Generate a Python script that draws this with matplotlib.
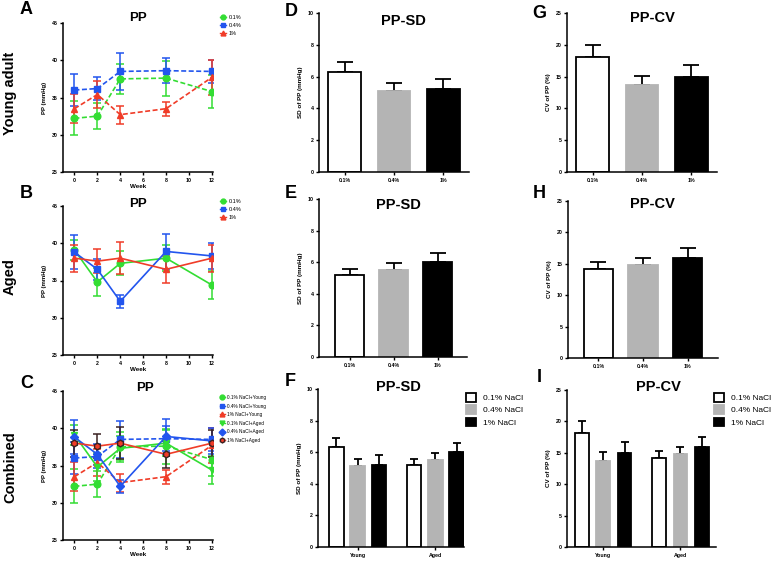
import matplotlib
matplotlib.use('Agg')
import matplotlib.pyplot as plt
from matplotlib.lines import Line2D

plt.rcParams['font.family'] = ['Liberation Sans', 'DejaVu Sans']
plt.rcParams['font.weight'] = 'bold'

W, H = 772, 561

weeks = [0, 2, 4, 8, 12]
doses = ['0.1%', '0.4%', '1%']
groups = ['Young', 'Aged']

# PP (mmHg), mean and error, young adult rats
young_01 = [32.2, 32.5, 37.5, 37.6, 35.8]
young_01_err = [2.3, 1.7, 2.0, 2.35, 2.2]
young_04 = [36.0, 36.2, 38.5, 38.6, 38.5]
young_04_err = [2.2, 1.6, 2.5, 1.7, 1.5]
young_1 = [33.5, 35.4, 32.7, 33.5, 37.7]
young_1_err = [1.95, 1.8, 1.2, 0.95, 2.3]

# aged rats
aged_01 = [39.1, 34.8, 37.3, 38.0, 34.4]
aged_01_err = [1.3, 1.9, 1.6, 1.7, 1.85]
aged_04 = [38.8, 36.5, 32.2, 38.9, 38.3]
aged_04_err = [2.3, 1.4, 0.85, 2.4, 1.8]
aged_1 = [38.0, 37.6, 38.0, 36.5, 38.0]
aged_1_err = [1.8, 1.65, 2.15, 1.85, 1.8]

# SD and CV of PP
sd_young = [6.3, 5.1, 5.2]
sd_young_err = [0.6, 0.48, 0.62]
sd_aged = [5.18, 5.5, 6.0]
sd_aged_err = [0.38, 0.43, 0.56]
cv_young = [18.1, 13.65, 14.95]
cv_young_err = [1.9, 1.4, 1.8]
cv_aged = [14.25, 14.85, 15.9]
cv_aged_err = [1.0, 1.0, 1.55]

green = '#33dd33'
blue = '#2255ee'
red = '#f03c28'
bar_fill = ['white', '#b4b4b4', 'black']
bar_edge = ['black', '#b4b4b4', 'black']

fig = plt.figure(figsize=(W / 100, H / 100), dpi=100)


def ax_at(l, t, r, b):
    ax = fig.add_axes([l / W, 1 - b / H, (r - l) / W, (b - t) / H])
    for s in ['top', 'right']:
        ax.spines[s].set_visible(False)
    for s in ['left', 'bottom']:
        ax.spines[s].set_linewidth(1.1)
    ax.tick_params(direction='out', length=2.5, width=1, labelsize=3.8, pad=1.5)
    return ax


def fig_text(x, y, s, **kw):
    fig.text(x / W, 1 - y / H, s, ha='center', va='center', fontweight='bold', **kw)


def line_panel(ax, series):
    for vals, err, col, mk, ls, ecol, ms in series:
        ax.errorbar(weeks, vals, yerr=err, color=col, ecolor=ecol, marker=mk, ls=ls,
                    lw=1.2, ms=ms, capsize=3.2, elinewidth=1.1, capthick=1.1,
                    mec=ecol, dashes=(3, 1.5) if ls == '--' else (None, None))
    ax.set_xlim(-1, 12.1)
    ax.set_ylim(25, 45)
    ax.set_xticks([0, 2, 4, 6, 8, 10, 12])
    ax.set_yticks([25, 30, 35, 40, 45])
    ax.set_xlabel('Week', fontsize=4.5, fontweight='bold', labelpad=1)
    ax.set_ylabel('PP (mmHg)', fontsize=4.3, fontweight='bold', labelpad=3)


young_series = [
    (young_01, young_01_err, green, 'o', '--', green, 4.8),
    (young_04, young_04_err, blue, 's', '--', blue, 4.8),
    (young_1, young_1_err, red, '^', '--', red, 4.8),
]
aged_series = [
    (aged_01, aged_01_err, green, 'o', '-', green, 4.8),
    (aged_04, aged_04_err, blue, 's', '-', blue, 4.8),
    (aged_1, aged_1_err, red, '^', '-', red, 4.8),
]
combined_series = young_series + [
    (aged_01, aged_01_err, green, 'v', '-', green, 4.8),
    (aged_04, aged_04_err, blue, 'D', '-', blue, 3.8),
    (aged_1, aged_1_err, red, 'h', '-', '#3a2222', 4.8),
]

axA = ax_at(63, 23, 213, 172)
line_panel(axA, young_series)
axB = ax_at(63, 206, 213, 355)
line_panel(axB, aged_series)
axC = ax_at(63, 391, 213, 540)
line_panel(axC, combined_series)


def small_legend(entries, x, y, fs, spacing):
    handles = [Line2D([], [], color=c, marker=m, ls=ls, lw=1, ms=3.5, mec=ec)
               for c, m, ls, ec, _ in entries]
    labels = [e[4] for e in entries]
    fig.legend(handles, labels, loc='upper left', bbox_to_anchor=(x / W, 1 - y / H),
               frameon=False, handlelength=1.0, handletextpad=0.5,
               labelspacing=spacing, borderpad=0, borderaxespad=0,
               prop={'size': fs, 'weight': 'normal'})


small_legend([(green, 'o', '-', green, '0.1%'), (blue, 's', '-', blue, '0.4%'),
              (red, '^', '-', red, '1%')], 220, 15, 4, 0.55)
small_legend([(green, 'o', '-', green, '0.1%'), (blue, 's', '-', blue, '0.4%'),
              (red, '^', '-', red, '1%')], 220, 199, 4, 0.55)
small_legend([(green, 'o', '-', green, '0.1% NaCl+Young'),
              (blue, 's', '-', blue, '0.4% NaCl+Young'),
              (red, '^', '-', red, '1% NaCl+Young'),
              (green, 'v', '-', green, '0.1% NaCl+Aged'),
              (blue, 'D', '-', blue, '0.4% NaCl+Aged'),
              (red, 'h', '-', '#3a2222', '1% NaCl+Aged')], 220, 395, 3.4, 0.75)


def bar_panel(ax, vals, err, ylabel, ymax, ystep, xlim):
    x = list(range(len(doses)))
    ax.bar(x, vals, width=0.66, color=bar_fill, edgecolor=bar_edge, lw=1.3, zorder=2)
    ax.errorbar(x, vals, yerr=[[0] * len(vals), err], fmt='none', ecolor='black',
                capsize=6, elinewidth=1.3, capthick=1.3, zorder=1)
    ax.set_xticks(x)
    ax.set_xticklabels(doses)
    ax.set_xlim(*xlim)
    ax.set_ylim(0, ymax)
    ax.set_yticks(range(0, ymax + 1, ystep))
    ax.set_ylabel(ylabel, fontsize=4.5, fontweight='bold', labelpad=3)


def group_panel(ax, young, young_err, aged, aged_err, ylabel, ymax, ystep, xlim, width):
    offsets = [-0.275, 0, 0.275]
    for i in range(3):
        xs = [0 + offsets[i], 1 + offsets[i]]
        vs = [young[i], aged[i]]
        es = [young_err[i], aged_err[i]]
        ax.bar(xs, vs, width=width, color=bar_fill[i], edgecolor=bar_edge[i], lw=1.3,
               zorder=2, label=doses[i] + ' NaCl')
        ax.errorbar(xs, vs, yerr=[[0, 0], es], fmt='none', ecolor='black', capsize=3,
                    elinewidth=1.3, capthick=1.3, zorder=1)
    ax.set_xticks([0, 1])
    ax.set_xticklabels(groups)
    ax.set_xlim(*xlim)
    ax.set_ylim(0, ymax)
    ax.set_yticks(range(0, ymax + 1, ystep))
    ax.set_ylabel(ylabel, fontsize=4.5, fontweight='bold', labelpad=3)


axD = ax_at(319, 13, 469, 172)
bar_panel(axD, sd_young, sd_young_err, 'SD of PP (mmHg)', 10, 2, (-0.52, 2.52))
axE = ax_at(319, 199, 467, 357)
bar_panel(axE, sd_aged, sd_aged_err, 'SD of PP (mmHg)', 10, 2, (-0.7, 2.66))
axF = ax_at(318, 389, 464, 547)
group_panel(axF, sd_young, sd_young_err, sd_aged, sd_aged_err, 'SD of PP (mmHg)',
            10, 2, (-0.51, 1.37), 0.19)

axG = ax_at(567, 13, 717, 172)
bar_panel(axG, cv_young, cv_young_err, 'CV of PP (%)', 25, 5, (-0.52, 2.52))
axH = ax_at(568, 201, 718, 358)
bar_panel(axH, cv_aged, cv_aged_err, 'CV of PP (%)', 25, 5, (-0.68, 2.68))
axI = ax_at(567, 390, 716, 547)
group_panel(axI, cv_young, cv_young_err, cv_aged, cv_aged_err, 'CV of PP (%)',
            25, 5, (-0.47, 1.46), 0.18)

for ax, x in [(axF, 466), (axI, 714)]:
    h, l = ax.get_legend_handles_labels()
    fig.legend(h, l, loc='upper left', bbox_to_anchor=(x / W, 1 - 393 / H), frameon=False,
               handlelength=1.2, handleheight=1.2, handletextpad=0.8, labelspacing=0.4,
               borderpad=0, borderaxespad=0, prop={'size': 6, 'weight': 'normal'})

# panel titles
for s, x, y, fs in [('PP', 138, 18, 9.5), ('PP', 138, 204, 9.5), ('PP', 145, 388, 9.5),
                    ('PP-SD', 403, 21, 10.5), ('PP-SD', 398, 205, 10.5),
                    ('PP-SD', 398, 387, 10.5),
                    ('PP-CV', 652, 18, 10.5), ('PP-CV', 652, 204, 10.5),
                    ('PP-CV', 658, 387, 10.5)]:
    fig_text(x, y, s, fontsize=fs)

# panel letters
for s, x, y in [('A', 26, 10), ('B', 26, 193), ('C', 27, 383),
                ('D', 291, 12), ('E', 291, 193), ('F', 290, 381),
                ('G', 539, 13), ('H', 539, 194), ('I', 539, 378)]:
    fig_text(x, y, s, fontsize=13)

# row labels
fig_text(10, 93, 'Young adult', fontsize=10.5, rotation=90)
fig_text(10, 277, 'Aged', fontsize=10.5, rotation=90)
fig_text(10, 467, 'Combined', fontsize=10.5, rotation=90)

fig.savefig('out.png', dpi=100)
